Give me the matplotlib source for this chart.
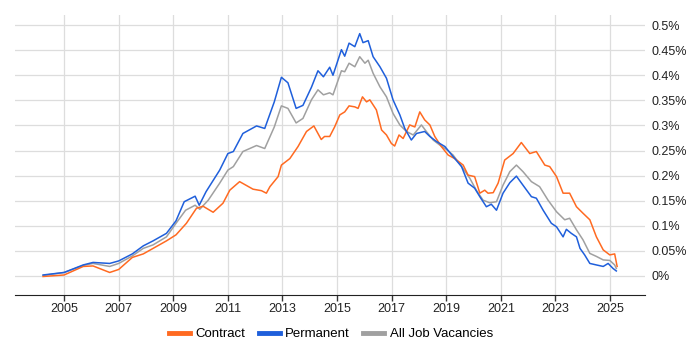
import matplotlib
matplotlib.use('Agg')
import matplotlib.pyplot as plt

plt.rcParams['font.family'] = ['Liberation Sans', 'DejaVu Sans']

# decimal years and share of vacancies (%)
perm_x = [2004.23, 2005.0, 2005.7, 2006.06, 2006.67, 2007.0, 2007.5, 2007.9, 2008.26, 2008.75,
          2009.1, 2009.4, 2009.8, 2009.95, 2010.2, 2010.7, 2011.0, 2011.2, 2011.55, 2012.05,
          2012.35, 2012.7, 2012.96, 2013.2, 2013.5, 2013.75, 2014.06, 2014.3, 2014.5, 2014.73,
          2014.85, 2015.16, 2015.28, 2015.44, 2015.65, 2015.83, 2015.95, 2016.14, 2016.32, 2016.57,
          2016.81, 2017.05, 2017.3, 2017.48, 2017.72, 2017.91, 2018.21, 2018.4, 2018.64, 2018.95,
          2019.25, 2019.56, 2019.8, 2020.04, 2020.23, 2020.47, 2020.65, 2020.84, 2021.08, 2021.33,
          2021.57, 2021.81, 2022.12, 2022.3, 2022.55, 2022.85, 2023.04, 2023.28, 2023.4, 2023.58,
          2023.77, 2023.9, 2024.07, 2024.26, 2024.5, 2024.75, 2024.93, 2025.11, 2025.23]
perm_y = [0.002, 0.007, 0.022, 0.027, 0.025, 0.03, 0.044, 0.06, 0.07, 0.085,
          0.11, 0.148, 0.159, 0.141, 0.168, 0.211, 0.244, 0.248, 0.284, 0.299,
          0.294, 0.347, 0.396, 0.385, 0.334, 0.34, 0.376, 0.409, 0.397, 0.416,
          0.4, 0.451, 0.438, 0.464, 0.457, 0.483, 0.465, 0.469, 0.437, 0.417,
          0.394, 0.351, 0.321, 0.294, 0.271, 0.284, 0.288, 0.278, 0.268, 0.258,
          0.238, 0.218, 0.185, 0.175, 0.158, 0.138, 0.143, 0.131, 0.165, 0.186,
          0.199, 0.181, 0.158, 0.155, 0.131, 0.105, 0.098, 0.078, 0.093, 0.085,
          0.078, 0.055, 0.042, 0.025, 0.022, 0.019, 0.025, 0.015, 0.010]

all_x = [2004.23, 2005.0, 2005.7, 2006.06, 2006.67, 2007.0, 2007.5, 2007.9, 2008.26, 2008.75,
         2009.1, 2009.45, 2009.8, 2009.97, 2010.28, 2010.7, 2011.0, 2011.2, 2011.55, 2012.05,
         2012.35, 2012.7, 2012.96, 2013.2, 2013.5, 2013.75, 2014.06, 2014.3, 2014.5, 2014.73,
         2014.85, 2015.16, 2015.28, 2015.44, 2015.65, 2015.83, 2016.02, 2016.14, 2016.32, 2016.57,
         2016.81, 2017.05, 2017.3, 2017.54, 2017.79, 2018.09, 2018.27, 2018.52, 2018.76, 2019.01,
         2019.25, 2019.62, 2019.86, 2020.1, 2020.35, 2020.59, 2020.84, 2021.08, 2021.33, 2021.57,
         2021.81, 2022.12, 2022.42, 2022.73, 2023.04, 2023.34, 2023.52, 2023.77, 2024.01, 2024.26,
         2024.5, 2024.75, 2024.99, 2025.17, 2025.23]
all_y = [0.001, 0.007, 0.021, 0.025, 0.019, 0.025, 0.04, 0.055, 0.062, 0.078,
         0.105, 0.131, 0.141, 0.133, 0.151, 0.185, 0.211, 0.218, 0.248, 0.26,
         0.254, 0.297, 0.339, 0.334, 0.305, 0.314, 0.351, 0.371, 0.361, 0.365,
         0.361, 0.409, 0.407, 0.424, 0.417, 0.437, 0.424, 0.43, 0.404, 0.377,
         0.357, 0.324, 0.301, 0.288, 0.281, 0.301, 0.288, 0.271, 0.261, 0.252,
         0.241, 0.214, 0.195, 0.171, 0.151, 0.146, 0.148, 0.181, 0.208, 0.221,
         0.208, 0.188, 0.178, 0.151, 0.128, 0.112, 0.115, 0.092, 0.072, 0.045,
         0.039, 0.032, 0.031, 0.022, 0.015]

contract_x = [2004.23, 2005.0, 2005.7, 2006.06, 2006.67, 2007.0, 2007.5, 2007.9, 2008.26, 2008.75,
              2009.1, 2009.48, 2009.85, 2010.09, 2010.46, 2010.82, 2011.07, 2011.43, 2011.92, 2012.23,
              2012.41, 2012.54, 2012.84, 2012.96, 2013.27, 2013.57, 2013.88, 2014.15, 2014.42, 2014.54,
              2014.73, 2014.91, 2015.1, 2015.28, 2015.44, 2015.65, 2015.77, 2015.93, 2016.08, 2016.2,
              2016.44, 2016.63, 2016.81, 2016.99, 2017.11, 2017.27, 2017.42, 2017.66, 2017.85, 2018.03,
              2018.21, 2018.4, 2018.58, 2018.82, 2019.07, 2019.31, 2019.62, 2019.8, 2020.04, 2020.23,
              2020.41, 2020.53, 2020.72, 2020.9, 2021.14, 2021.45, 2021.75, 2022.06, 2022.3, 2022.61,
              2022.79, 2023.04, 2023.28, 2023.52, 2023.77, 2024.01, 2024.26, 2024.5, 2024.75, 2024.99,
              2025.17, 2025.26]
contract_y = [-0.001, 0.002, 0.019, 0.02, 0.007, 0.013, 0.037, 0.044, 0.055, 0.07,
              0.082, 0.105, 0.135, 0.139, 0.127, 0.145, 0.171, 0.188, 0.173, 0.17,
              0.165, 0.178, 0.198, 0.221, 0.234, 0.258, 0.288, 0.299, 0.272, 0.278,
              0.278, 0.297, 0.321, 0.327, 0.339, 0.337, 0.334, 0.357, 0.347, 0.351,
              0.331, 0.291, 0.281, 0.264, 0.259, 0.281, 0.274, 0.301, 0.297, 0.327,
              0.311, 0.301, 0.278, 0.258, 0.241, 0.234, 0.221, 0.201, 0.198, 0.165,
              0.171, 0.165, 0.166, 0.185, 0.231, 0.244, 0.266, 0.244, 0.248, 0.221,
              0.218, 0.198, 0.165, 0.165, 0.138, 0.125, 0.112, 0.078, 0.052, 0.042,
              0.044, 0.019]

x_ticks = [2005, 2007, 2009, 2011, 2013, 2015, 2017, 2019, 2021, 2023, 2025]
y_ticks = [0, 0.05, 0.1, 0.15, 0.2, 0.25, 0.3, 0.35, 0.4, 0.45, 0.5]
y_labels = ['0%', '0.05%', '0.1%', '0.15%', '0.2%', '0.25%', '0.3%', '0.35%', '0.4%', '0.45%', '0.5%']

fig = plt.figure(figsize=(7, 3.5), dpi=100)
ax = fig.add_axes([0.021, 0.157, 0.9, 0.8])

ax.plot(contract_x, contract_y, color='#FF6A21', lw=1.1, label='Contract', zorder=3)
ax.plot(perm_x, perm_y, color='#1F5FDB', lw=1.1, label='Permanent', zorder=3)
ax.plot(all_x, all_y, color='#A0A0A0', lw=1.1, label='All Job Vacancies', zorder=2)

ax.set_xlim(2003.19, 2026.27)
ax.set_ylim(-0.038, 0.52)
ax.set_xticks(x_ticks)
ax.set_xticklabels([str(t) for t in x_ticks])
ax.set_yticks(y_ticks)
ax.set_yticklabels(y_labels)
ax.yaxis.tick_right()
ax.tick_params(axis='y', length=0, pad=5, labelsize=9, colors='#222222')
ax.tick_params(axis='x', length=4, width=1, direction='out', labelsize=9, colors='#222222', pad=2)
ax.tick_params(axis='x', color='#333333')
ax.grid(True, color='#DDDDDD', lw=0.9)
ax.set_axisbelow(True)
for s in ['top', 'left', 'right']:
    ax.spines[s].set_visible(False)
ax.spines['bottom'].set_color('#222222')

leg = fig.legend(handles=ax.lines,
                 loc='center', bbox_to_anchor=(0.473, 0.045), ncol=3, frameon=False,
                 fontsize=9.5, handlelength=1.6, handletextpad=0.4, columnspacing=1.0)
for h in leg.legend_handles:
    h.set_linewidth(3.5)

fig.savefig('out.png', dpi=100)
